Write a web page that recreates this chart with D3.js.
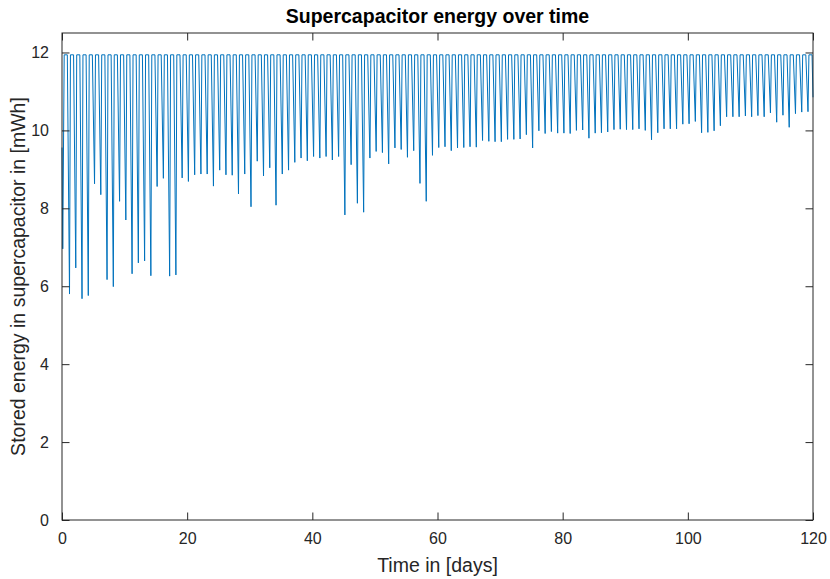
<!DOCTYPE html>
<html>
<head>
<meta charset="utf-8">
<script src="https://cdn.jsdelivr.net/npm/d3@7"></script>
<style>
  body { margin: 0; background: #fff; }
</style>
</head>
<body>
<div id="chart"></div>
<script>
// energy level when the supercapacitor is topped up (mWh)
const fullCharge = 11.94
const startValue = 9.56
const endValue = 10.85

// lowest energy reached during each day's discharge, day 0..119
const dailyMinimum = [
  6.96, 5.80, 6.47, 5.68, 5.76, 8.63, 8.35, 6.17, 5.99, 8.18,
  7.70, 6.32, 6.60, 6.65, 6.27, 8.56, 8.77, 6.26, 6.29, 8.78,
  8.69, 8.86, 8.88, 8.88, 8.57, 8.98, 8.86, 8.85, 8.37, 8.88,
  8.04, 9.21, 8.83, 9.04, 8.08, 8.88, 8.98, 9.18, 9.29, 9.22,
  9.33, 9.29, 9.33, 9.24, 9.33, 7.83, 9.12, 8.13, 7.90, 9.29,
  9.46, 9.43, 9.14, 9.55, 9.51, 9.31, 9.48, 8.64, 8.18, 9.36,
  9.56, 9.58, 9.48, 9.55, 9.56, 9.58, 9.57, 9.74, 9.72, 9.71,
  9.71, 9.77, 9.77, 9.78, 9.89, 9.55, 9.99, 9.92, 9.97, 9.93,
  9.93, 9.92, 10.00, 10.01, 9.80, 9.93, 9.94, 9.96, 10.02, 10.03,
  10.02, 10.02, 10.04, 10.00, 9.76, 9.94, 10.04, 10.04, 10.04, 10.16,
  10.17, 10.23, 9.94, 9.95, 9.99, 10.12, 10.35, 10.35, 10.35, 10.37,
  10.35, 10.38, 10.35, 10.45, 10.21, 10.39, 10.08, 10.43, 10.47, 10.48
]

const xTicks = [0, 20, 40, 60, 80, 100, 120]
const yTicks = [0, 2, 4, 6, 8, 10, 12]

// timing of one discharge/recharge cycle, as a fraction of a day
const fallStart = -0.15, bottomAt = 0.2, recoveredAt = 0.35

const series = [[0, startValue]]
dailyMinimum.forEach((m, day) => {
  if (day > 0) series.push([day + fallStart, fullCharge])
  series.push([day + (day ? bottomAt : 0.12), m])
  series.push([day + recoveredAt, fullCharge])
})
series.push([120 + fallStart, fullCharge])
series.push([120, endValue])

const width = 830, height = 579
const margin = { top: 33, right: 17, bottom: 59, left: 62 }
const axisColor = "#262626"
const font = "'Liberation Sans', Arial, Helvetica, sans-serif"

const svg = d3.select("#chart").append("svg")
  .attr("width", width)
  .attr("height", height)
  .attr("font-family", font)

const x = d3.scaleLinear().domain([0, 120]).range([margin.left, width - margin.right])
const y = d3.scaleLinear().domain([0, 12.5]).range([height - margin.bottom, margin.top])

const tickLen = 7.5

// data line
svg.append("path")
  .datum(series)
  .attr("fill", "none")
  .attr("stroke", "#0072BD")
  .attr("stroke-width", 1)
  .attr("stroke-linejoin", "round")
  .attr("d", d3.line().x(d => x(d[0])).y(d => y(d[1])))

// box
svg.append("rect")
  .attr("x", x(0)).attr("y", y(12.5))
  .attr("width", x(120) - x(0)).attr("height", y(0) - y(12.5))
  .attr("fill", "none")
  .attr("stroke", axisColor)
  .attr("stroke-width", 1)

const bottomAxis = svg.append("g")
  .attr("transform", `translate(0,${y(0)})`)
  .call(d3.axisBottom(x).tickValues(xTicks).tickSizeInner(-tickLen).tickSizeOuter(0).tickPadding(13))
const topAxis = svg.append("g")
  .attr("transform", `translate(0,${y(12.5)})`)
  .call(d3.axisTop(x).tickValues(xTicks).tickSizeInner(-tickLen).tickSizeOuter(0).tickFormat(""))
const leftAxis = svg.append("g")
  .attr("transform", `translate(${x(0)},0)`)
  .call(d3.axisLeft(y).tickValues(yTicks).tickSizeInner(-tickLen).tickSizeOuter(0).tickPadding(13))
const rightAxis = svg.append("g")
  .attr("transform", `translate(${x(120)},0)`)
  .call(d3.axisRight(y).tickValues(yTicks).tickSizeInner(-tickLen).tickSizeOuter(0).tickFormat(""))

for (const g of [bottomAxis, topAxis, leftAxis, rightAxis]) {
  g.select(".domain").remove()
  g.selectAll("line").attr("stroke", axisColor)
  g.selectAll("text")
    .attr("fill", axisColor)
    .attr("font-family", font)
    .attr("font-size", 16)
}

svg.append("text")
  .attr("x", (x(0) + x(120)) / 2)
  .attr("y", 23)
  .attr("text-anchor", "middle")
  .attr("font-weight", "bold")
  .attr("font-size", 19.5)
  .attr("fill", "#000")
  .text("Supercapacitor energy over time")

svg.append("text")
  .attr("x", (x(0) + x(120)) / 2)
  .attr("y", 572)
  .attr("text-anchor", "middle")
  .attr("font-size", 19.5)
  .attr("fill", axisColor)
  .text("Time in [days]")

svg.append("text")
  .attr("transform", `translate(25,${(y(0) + y(12.5)) / 2}) rotate(-90)`)
  .attr("text-anchor", "middle")
  .attr("font-size", 19.5)
  .attr("fill", axisColor)
  .text("Stored energy in supercapacitor in [mWh]")
</script>
</body>
</html>
